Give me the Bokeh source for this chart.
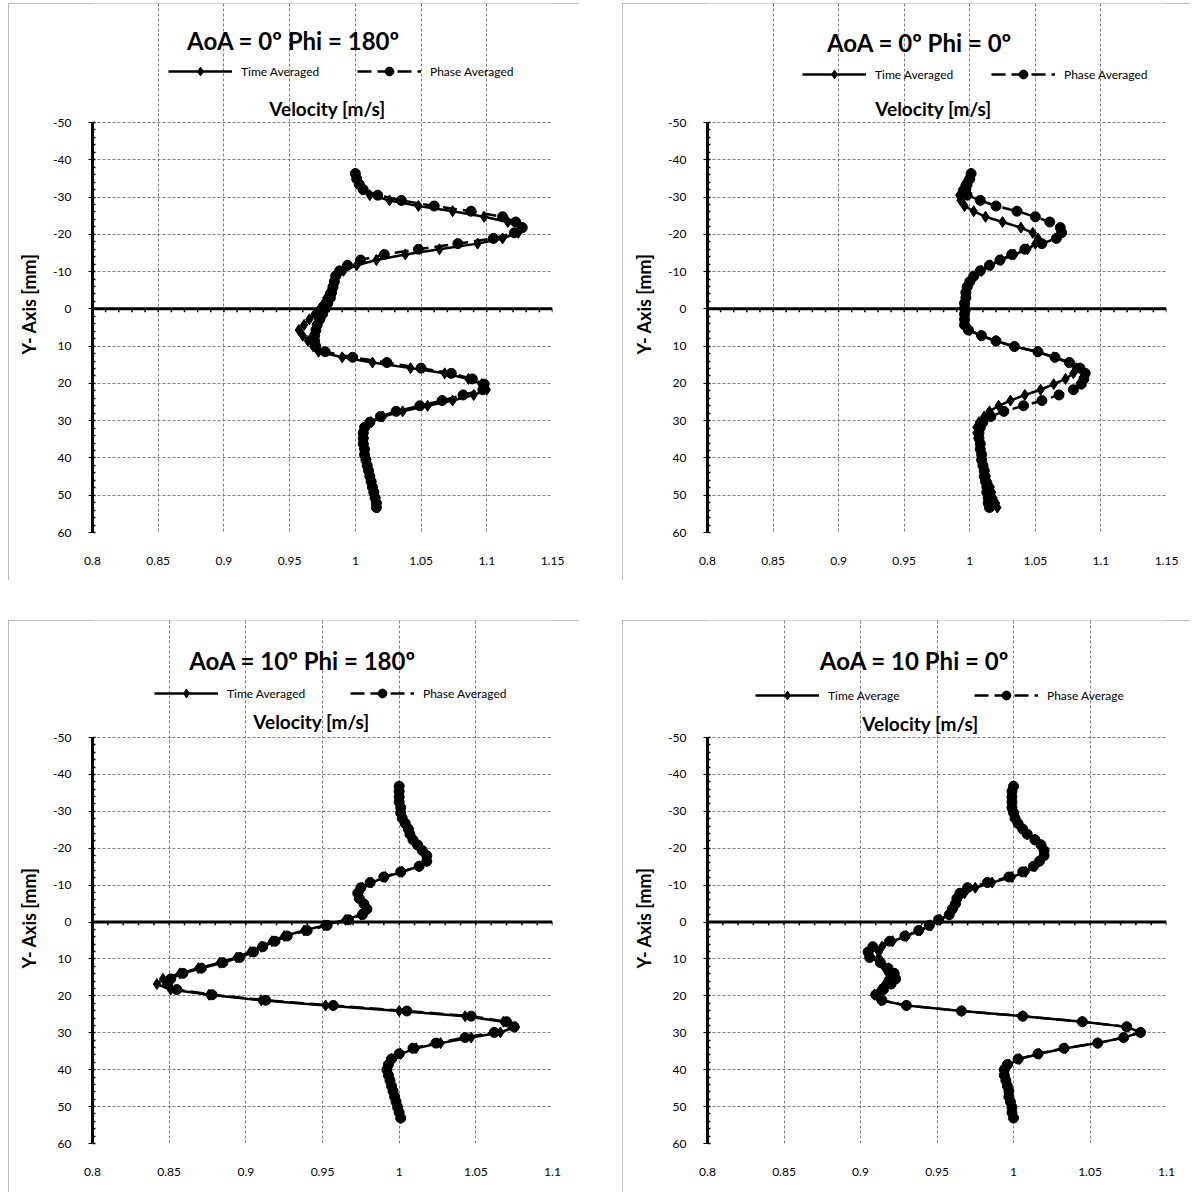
from bokeh.plotting import figure
from bokeh.models import (Range1d, FixedTicker, CustomJSTickFormatter, Span, Label,
                          Legend, LegendItem, Spacer, LinearAxis)
from bokeh.layouts import row, column
from bokeh.embed import file_html
from bokeh.resources import INLINE

FONT = "Lato"

# ---------------- data (velocity [m/s] vs Y position [mm]) ----------------
Y_AOA0 = [-36.3, -34.9, -33.4, -32.0, -30.5, -29.1, -27.6, -26.2, -24.7, -23.3, -21.8,
          -20.4, -18.9, -17.5, -16.0, -14.6, -13.1, -11.7, -10.2, -8.8, -7.3, -5.9,
          -4.4, -3.0, -1.5, -0.1, 1.4, 2.8, 4.3, 5.7, 7.2, 8.6, 10.1, 11.5, 13.0,
          14.4, 15.9, 17.3, 18.8, 20.2, 21.7, 23.1, 24.6, 26.0, 27.5, 28.9, 30.4,
          31.8, 33.3, 34.7, 36.2, 37.6, 39.1, 40.5, 42.0, 43.4, 44.9, 46.3, 47.8,
          49.2, 50.7, 52.1, 53.3]

Y_AOA10 = [-36.8, -35.4, -33.9, -32.5, -31.0, -29.6, -28.1, -26.7, -25.2, -23.8, -22.3,
           -20.9, -19.4, -18.0, -16.5, -15.1, -13.6, -12.2, -10.7, -9.3, -7.8, -6.4,
           -4.9, -3.5, -2.0, -0.6, 0.9, 2.3, 3.8, 5.2, 6.7, 8.1, 9.6, 11.0, 12.5,
           13.9, 15.4, 16.8, 18.3, 19.7, 21.2, 22.6, 24.1, 25.5, 27.0, 28.4, 29.9,
           31.3, 32.8, 34.2, 35.7, 37.1, 38.6, 40.0, 41.5, 42.9, 44.4, 45.8, 47.3,
           48.7, 50.2, 51.6, 53.1]

# AoA = 0, Phi = 180
TIME_A0_P180 = [1.000, 1.001, 1.003, 1.005, 1.011, 1.026, 1.048, 1.074, 1.098, 1.116, 1.127,
                1.124, 1.112, 1.093, 1.064, 1.038, 1.016, 1.001, 0.991, 0.986, 0.984, 0.982,
                0.980, 0.978, 0.976, 0.973, 0.969, 0.965, 0.961, 0.957, 0.960, 0.964, 0.968,
                0.972, 0.990, 1.013, 1.042, 1.068, 1.086, 1.096, 1.100, 1.090, 1.074, 1.055,
                1.036, 1.021, 1.012, 1.008, 1.007, 1.007, 1.007, 1.008, 1.008, 1.009, 1.010,
                1.011, 1.012, 1.013, 1.014, 1.015, 1.016, 1.017, 1.017]
PHASE_A0_P180 = [1.000, 1.001, 1.003, 1.006, 1.017, 1.035, 1.060, 1.088, 1.112, 1.122, 1.127,
                 1.121, 1.105, 1.078, 1.048, 1.022, 1.004, 0.994, 0.988, 0.985, 0.984, 0.983,
                 0.982, 0.981, 0.979, 0.977, 0.975, 0.973, 0.971, 0.970, 0.969, 0.969, 0.970,
                 0.977, 0.998, 1.024, 1.050, 1.073, 1.089, 1.098, 1.097, 1.082, 1.066, 1.049,
                 1.031, 1.019, 1.011, 1.007, 1.006, 1.006, 1.006, 1.007, 1.007, 1.008, 1.009,
                 1.010, 1.011, 1.012, 1.013, 1.014, 1.015, 1.016, 1.016]

# AoA = 0, Phi = 0
TIME_A0_P0 = [1.001, 0.999, 0.996, 0.994, 0.992, 0.993, 0.996, 1.003, 1.012, 1.025, 1.039,
              1.048, 1.052, 1.050, 1.044, 1.034, 1.024, 1.016, 1.009, 1.004, 1.001, 0.999,
              0.998, 0.998, 0.997, 0.997, 0.997, 0.997, 0.997, 1.000, 1.008, 1.020, 1.034,
              1.051, 1.064, 1.075, 1.081, 1.079, 1.073, 1.064, 1.054, 1.042, 1.031, 1.022,
              1.015, 1.011, 1.007, 1.005, 1.005, 1.006, 1.007, 1.008, 1.009, 1.010, 1.011,
              1.012, 1.013, 1.014, 1.016, 1.017, 1.018, 1.020, 1.021]
PHASE_A0_P0 = [1.001, 1.000, 0.998, 0.997, 0.998, 1.008, 1.020, 1.036, 1.050, 1.061, 1.069,
               1.070, 1.066, 1.055, 1.042, 1.032, 1.023, 1.015, 1.008, 1.003, 1.000, 0.998,
               0.997, 0.997, 0.996, 0.996, 0.996, 0.996, 0.996, 0.999, 1.009, 1.020, 1.034,
               1.052, 1.065, 1.076, 1.084, 1.088, 1.087, 1.085, 1.079, 1.068, 1.055, 1.041,
               1.026, 1.016, 1.010, 1.008, 1.007, 1.007, 1.008, 1.008, 1.009, 1.009, 1.010,
               1.011, 1.011, 1.012, 1.013, 1.013, 1.014, 1.014, 1.015]

# AoA = 10, Phi = 180
TIME_A10_P180 = [1.000, 1.000, 1.000, 1.000, 1.001, 1.001, 1.002, 1.004, 1.006, 1.007, 1.009,
                 1.012, 1.015, 1.018, 1.018, 1.013, 1.002, 0.991, 0.982, 0.976, 0.974, 0.975,
                 0.977, 0.979, 0.975, 0.965, 0.951, 0.938, 0.925, 0.917, 0.910, 0.903, 0.894,
                 0.883, 0.869, 0.857, 0.846, 0.842, 0.851, 0.876, 0.910, 0.952, 1.000, 1.043,
                 1.068, 1.076, 1.066, 1.047, 1.027, 1.011, 1.001, 0.995, 0.993, 0.992, 0.993,
                 0.994, 0.995, 0.996, 0.997, 0.998, 0.999, 1.000, 1.001]
PHASE_A10_P180 = [1.000, 1.000, 1.000, 1.000, 1.001, 1.001, 1.002, 1.004, 1.006, 1.007, 1.009,
                  1.012, 1.015, 1.018, 1.018, 1.013, 1.001, 0.990, 0.981, 0.975, 0.973, 0.974,
                  0.977, 0.979, 0.976, 0.967, 0.953, 0.940, 0.927, 0.919, 0.911, 0.905, 0.896,
                  0.885, 0.871, 0.859, 0.851, 0.849, 0.855, 0.878, 0.913, 0.957, 1.005, 1.047,
                  1.070, 1.075, 1.062, 1.043, 1.024, 1.009, 1.000, 0.995, 0.993, 0.992, 0.993,
                  0.994, 0.995, 0.996, 0.997, 0.998, 0.999, 1.000, 1.001]

# AoA = 10, Phi = 0
TIME_A10_P0 = [1.000, 0.999, 0.999, 0.999, 0.999, 1.000, 1.001, 1.003, 1.006, 1.009, 1.014,
               1.018, 1.020, 1.020, 1.017, 1.014, 1.008, 0.999, 0.986, 0.975, 0.968, 0.964,
               0.963, 0.961, 0.958, 0.952, 0.946, 0.939, 0.930, 0.921, 0.914, 0.912, 0.912,
               0.913, 0.916, 0.918, 0.918, 0.916, 0.913, 0.909, 0.913, 0.930, 0.966, 1.006,
               1.045, 1.074, 1.083, 1.072, 1.055, 1.034, 1.017, 1.004, 0.997, 0.994, 0.994,
               0.995, 0.996, 0.997, 0.997, 0.998, 0.999, 0.999, 1.000]
PHASE_A10_P0 = [1.000, 0.999, 0.999, 0.999, 0.999, 1.000, 1.001, 1.003, 1.006, 1.009, 1.014,
                1.018, 1.020, 1.020, 1.017, 1.013, 1.006, 0.997, 0.983, 0.970, 0.965, 0.963,
                0.962, 0.960, 0.958, 0.951, 0.945, 0.938, 0.929, 0.919, 0.908, 0.905, 0.906,
                0.913, 0.918, 0.922, 0.923, 0.920, 0.915, 0.910, 0.914, 0.930, 0.966, 1.006,
                1.045, 1.074, 1.083, 1.072, 1.055, 1.033, 1.016, 1.003, 0.996, 0.994, 0.994,
                0.995, 0.996, 0.997, 0.997, 0.998, 0.999, 0.999, 1.000]

X_TICKS_A0 = [0.8, 0.85, 0.9, 0.95, 1.0, 1.05, 1.1, 1.15]
X_TICKS_A10 = [0.8, 0.85, 0.9, 0.95, 1.0, 1.05, 1.1]
Y_TICKS = [-50, -40, -30, -20, -10, 0, 10, 20, 30, 40, 50, 60]
Y_MINOR = [v for v in range(-50, 61, 2)]
Y_MIN, Y_MAX = -50, 60

TITLES = ["AoA = 0º Phi = 180º", "AoA = 0º Phi = 0º",
          "AoA = 10º Phi = 180º", "AoA = 10 Phi = 0º"]
LEG_A = ("Time Averaged", "Phase Averaged")
LEG_B = ("Time Average", "Phase Average")
X_TITLE = "Velocity [m/s]"
Y_TITLE = "Y- Axis [mm]"
# trailing em/en spaces push the visible axis title down to where the original has it
Y_TITLE_PAD = "\u2003\u2003\u2003\u2003\u2002\u2002"


def make_panel(title, ys, t_vals, p_vals, xticks, leg_labels, width, height,
               mb_left, mb_right, top_pad, mb_bottom, title_dx, title_up,
               leg_x, leg_up, vel_dx, vel_up):
    xmax = xticks[-1]
    plot_h = height - top_pad - mb_bottom          # pixel height of the -50..60 region
    y_top = Y_MIN - top_pad * (Y_MAX - Y_MIN) / plot_h
    p = figure(width=width, height=height, x_range=Range1d(0.8, xmax),
               y_range=Range1d(Y_MAX, y_top), output_backend="svg", toolbar_location=None,
               min_border_left=mb_left, min_border_right=mb_right,
               min_border_top=0, min_border_bottom=mb_bottom,
               background_fill_color="white", border_fill_color="white")
    p.outline_line_color = None
    p.styles = {"outline": "1px solid #a6a6a6", "outline-offset": "-1px"}

    xa = p.xaxis[0]
    xa.ticker = FixedTicker(ticks=xticks, minor_ticks=[])
    xa.formatter = CustomJSTickFormatter(code="return String(tick);")
    xa.axis_line_color = None
    xa.major_tick_in = 0
    xa.major_tick_out = 0
    xa.minor_tick_in = 0
    xa.minor_tick_out = 0
    xa.major_label_standoff = 24
    ya = p.yaxis[0]
    ya.ticker = FixedTicker(ticks=Y_TICKS, minor_ticks=Y_MINOR)
    ya.formatter = CustomJSTickFormatter(code="return String(tick);")
    ya.bounds = (Y_MIN, Y_MAX)
    ya.axis_line_width = 3
    ya.axis_line_color = "black"
    ya.major_tick_out = 4
    ya.major_tick_in = 0
    ya.minor_tick_in = 3
    ya.minor_tick_out = 0
    ya.minor_tick_line_width = 1.5
    ya.major_label_standoff = 17
    for ax in (xa, ya):
        ax.major_label_text_font = FONT
        ax.major_label_text_font_size = "12px"
        ax.major_label_text_color = "black"

    ta = LinearAxis(ticker=FixedTicker(ticks=[]), bounds=(Y_MIN, Y_MAX),
                    axis_line_color=None, major_tick_line_color=None,
                    minor_tick_line_color=None, axis_label=Y_TITLE + Y_TITLE_PAD,
                    axis_label_standoff=11, axis_label_text_font=FONT,
                    axis_label_text_font_size="18px", axis_label_text_font_style="bold",
                    axis_label_text_color="black")
    p.add_layout(ta, "left")

    for g in (p.xgrid[0], p.ygrid[0]):
        g.grid_line_color = "#7f7f7f"
        g.grid_line_dash = "3 2"
        g.grid_line_width = 1
    p.xgrid[0].bounds = (Y_MIN, Y_MAX)

    p.add_layout(Span(location=0, dimension="width", line_color="black", line_width=3))
    xminor = [round(0.8 + 0.01 * i, 2) for i in range(int(round((xmax - 0.8) / 0.01)) + 1)]
    p.segment(x0=xminor, y0=[0] * len(xminor), x1=xminor, y1=[0.9] * len(xminor),
              line_color="black", line_width=1.5)

    tl = p.line(t_vals, ys, line_color="black", line_width=2.5)
    ts = p.scatter(t_vals, ys, marker="diamond", size=11, color="black")
    pl = p.line(p_vals, ys, line_color="black", line_width=2.5, line_dash="14 6")
    ps = p.scatter(p_vals, ys, marker="circle", size=10, color="black")

    for (lx, label, rends) in ((leg_x[0], leg_labels[0], [tl, ts]),
                               (leg_x[1], leg_labels[1], [pl, ps])):
        lg = Legend(items=[LegendItem(label=label, renderers=rends)],
                    location=(lx, plot_h + leg_up - 11), orientation="horizontal",
                    glyph_width=64, glyph_height=22, label_height=22, label_standoff=9,
                    padding=0, margin=0, spacing=0, border_line_color=None,
                    background_fill_alpha=0, label_text_font=FONT,
                    label_text_font_size="12px", label_text_color="black")
        p.add_layout(lg)

    p.add_layout(Label(x=title_dx, y=plot_h + title_up, x_units="screen", y_units="screen",
                       text=title, text_align="center", text_baseline="middle",
                       text_font=FONT, text_font_style="bold",
                       text_font_size="24px", text_color="black"))
    p.add_layout(Label(x=vel_dx, y=plot_h + vel_up, x_units="screen", y_units="screen",
                       text=X_TITLE, text_align="center", text_baseline="middle",
                       text_font=FONT, text_font_style="bold",
                       text_font_size="19px", text_color="black"))
    return p


p1 = make_panel(TITLES[0], Y_AOA0, TIME_A0_P180, PHASE_A0_P180, X_TICKS_A0, LEG_A,
                570, 577, 84, 26, 119, 48, 201, 82, (76, 265), 51, 235, 14)
p2 = make_panel(TITLES[1], Y_AOA0, TIME_A0_P0, PHASE_A0_P0, X_TICKS_A0, LEG_A,
                568, 577, 85, 24, 119, 48, 212, 80, (95, 284), 48, 226, 14)
p3 = make_panel(TITLES[2], Y_AOA10, TIME_A10_P180, PHASE_A10_P180, X_TICKS_A10, LEG_A,
                570, 572, 84, 26, 117, 49, 210, 77, (62, 258), 44, 219, 16)
p4 = make_panel(TITLES[3], Y_AOA10, TIME_A10_P0, PHASE_A10_P0, X_TICKS_A10, LEG_B,
                568, 572, 85, 24, 117, 49, 207, 77, (48, 267), 42, 213, 14)

layout = column(Spacer(height=3),
                row(Spacer(width=8), p1, Spacer(width=44), p2),
                Spacer(height=40),
                row(Spacer(width=8), p3, Spacer(width=44), p4))

open("out.html", "w").write(file_html(layout, INLINE))
